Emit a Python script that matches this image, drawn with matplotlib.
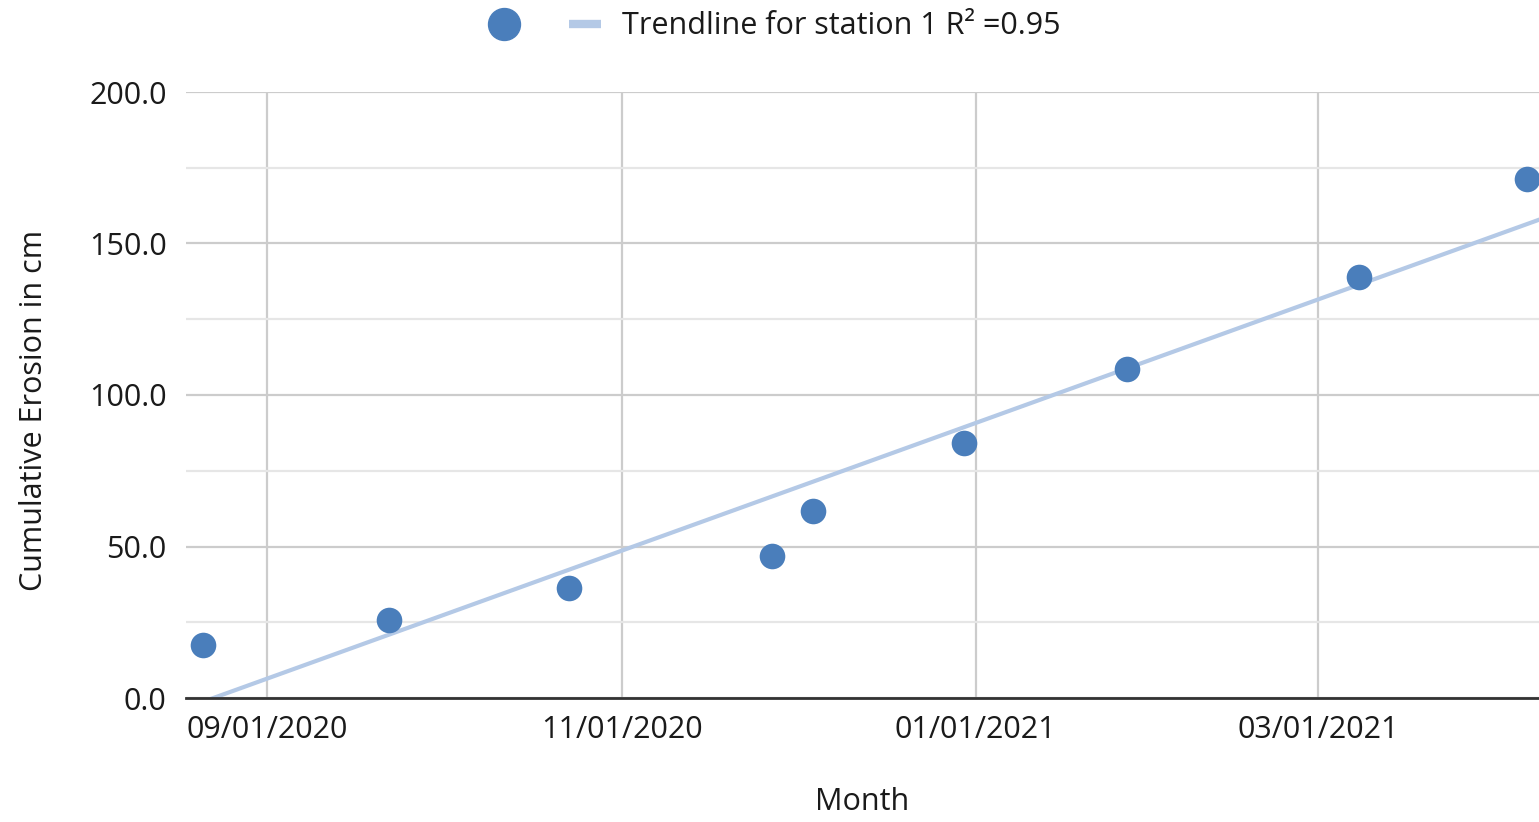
import matplotlib
matplotlib.use('Agg')
import matplotlib.pyplot as plt
import matplotlib.dates as mdates
from matplotlib.lines import Line2D
from matplotlib.ticker import MultipleLocator
import numpy as np
import pandas as pd

# station 1 survey dates and cumulative erosion (cm)
dates = ['2020-08-21', '2020-09-22', '2020-10-23', '2020-11-27', '2020-12-04',
         '2020-12-30', '2021-01-27', '2021-03-08', '2021-04-06']
erosion = [17.5, 25.7, 36.3, 46.9, 61.7, 84.2, 108.6, 138.9, 171.3]
tick_dates = ['2020-09-01', '2020-11-01', '2021-01-01', '2021-03-01']
x_range = ['2020-08-18', '2021-04-08']
trend_label = 'Trendline for station 1 R\u00b2 =0.95'

POINT = '#4a7ebb'
TREND = '#b4c9e6'
TEXT = '#1a1a1a'

plt.rcParams.update({'font.family': ['Open Sans', 'DejaVu Sans'], 'font.size': 22})

d = pd.to_datetime(dates)
xn = mdates.date2num(d)
y = np.array(erosion)
slope, icpt = np.polyfit(xn, y, 1)
lim = mdates.date2num(pd.to_datetime(x_range))

fig = plt.figure(figsize=(15.39, 8.22), dpi=100)
ax = fig.add_axes([186 / 1539, 1 - 698 / 822, 1 - 186 / 1539, (698 - 92) / 822])

xs = np.array(lim)
ax.plot(xs, slope * xs + icpt, color=TREND, linewidth=3, zorder=2)
ax.scatter(xn, y, s=340, color=POINT, zorder=3, linewidths=0)

ax.set_xlim(lim)
ax.set_ylim(0, 200)
ax.yaxis.set_major_locator(MultipleLocator(50))
ax.yaxis.set_minor_locator(MultipleLocator(25))
ax.yaxis.set_major_formatter(lambda v, p: f'{v:.1f}')
ticks = mdates.date2num(pd.to_datetime(tick_dates))
ax.set_xticks(ticks)
ax.set_xticklabels(pd.to_datetime(tick_dates).strftime('%m/%d/%Y'))

ax.grid(True, which='major', axis='both', color='#cccccc', linewidth=1.6)
ax.grid(True, which='minor', axis='y', color='#e6e6e6', linewidth=1.6)
ax.set_axisbelow(True)
for s in ['top', 'right', 'left']:
    ax.spines[s].set_visible(False)
ax.spines['bottom'].set_color('#333333')
ax.spines['bottom'].set_linewidth(2)
ax.tick_params(axis='both', which='both', length=0, labelcolor=TEXT)
ax.tick_params(axis='y', pad=14)
ax.tick_params(axis='x', pad=12)

ax.set_xlabel('Month', color=TEXT, va='center')
ax.xaxis.set_label_coords(0.5, -0.172)
ax.set_ylabel('Cumulative Erosion in cm', color=TEXT, va='center')
ax.yaxis.set_label_coords(-0.112, 0.475)

handles = [Line2D([], [], marker='o', linestyle='none', markersize=23, color=POINT),
           Line2D([], [], color=TREND, linewidth=6, solid_capstyle='butt')]
fig.legend(handles, ['', trend_label], loc='center', bbox_to_anchor=(0.503, 0.968),
           ncol=2, frameon=False, handlelength=1.05, columnspacing=0.9, handletextpad=0.7,
           labelcolor=TEXT)

fig.savefig('out.png', dpi=100)
